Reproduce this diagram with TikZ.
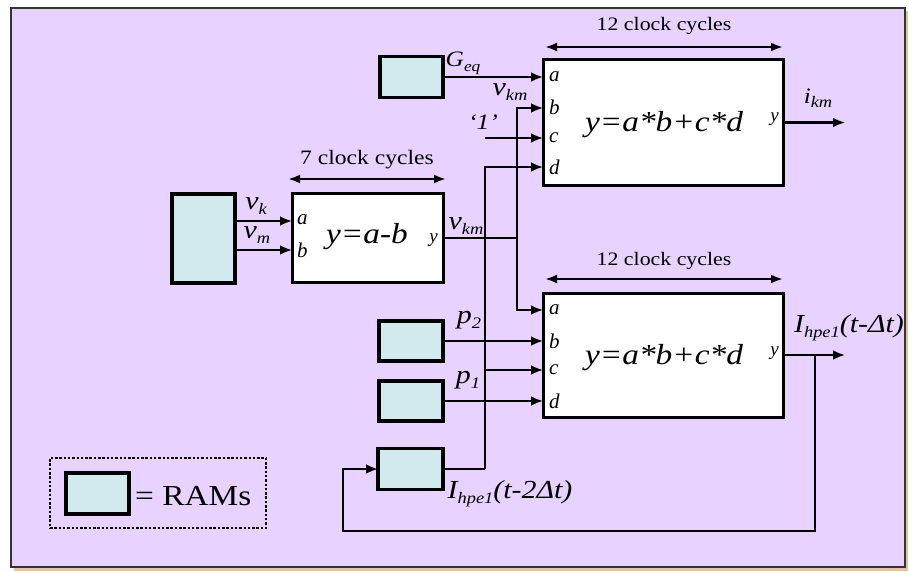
\documentclass[tikz,border=0pt]{standalone}
\usepackage{fontspec}
\setmainfont{Liberation Serif}
\usepackage{graphicx}
\usetikzlibrary{arrows.meta}
\definecolor{bgcol}{RGB}{232,210,255}
\definecolor{ramcol}{RGB}{210,234,238}
\definecolor{shadowcol}{RGB}{228,196,160}
\newcommand\hs[1]{\scalebox{1.15}[1]{#1}}
\newcommand\subx[1]{\raisebox{-0.2em}{\fontsize{16}{16}\selectfont #1}}
\newcommand\subs[1]{\raisebox{-0.22em}{\fontsize{15}{15}\selectfont #1}}
\begin{document}
\begin{tikzpicture}[x=1pt,y=-1pt,
  ram/.style={draw=black, line width=3.5pt, fill=ramcol, inner sep=0pt, outer sep=0pt},
  blk/.style={draw=black, line width=3pt, fill=white, inner sep=0pt, outer sep=0pt},
  wire/.style={line width=2.5pt},
  arr/.style={wire, -{Latex[length=12pt,width=10pt]}},
  dim/.style={line width=2.5pt, {Latex[length=12pt,width=9pt]}-{Latex[length=12pt,width=9pt]}},
  lbl/.style={font=\fontsize{26}{26}\selectfont\itshape, inner sep=0pt},
  slbl/.style={font=\fontsize{22}{22}\selectfont\itshape, inner sep=0pt},
  port/.style={font=\fontsize{21}{21}\selectfont\itshape, inner sep=0pt, anchor=west},
  yport/.style={font=\fontsize{19}{19}\selectfont\itshape, inner sep=0pt, anchor=east},
  formula/.style={font=\fontsize{29}{29}\selectfont\itshape, inner sep=0pt},
  clk/.style={font=\fontsize{19}{19}\selectfont, inner sep=0pt}
]
\useasboundingbox (0,0) rectangle (909,572);
\fill[white] (0,0) rectangle (909,572);
\fill[shadowcol] (14,11) rectangle (908,571);
\draw[line width=2.5pt, draw=black!80, fill=bgcol] (11,8) rectangle (905,567);

% RAM boxes
\node[ram, minimum width=63pt, minimum height=41pt] (ramG) at (411.5,77) {};
\node[ram, minimum width=63pt, minimum height=89pt] (ramV) at (203.5,238.5) {};
\node[ram, minimum width=64pt, minimum height=40pt] (ramP2) at (411,341) {};
\node[ram, minimum width=64pt, minimum height=40pt] (ramP1) at (411,401) {};
\node[ram, minimum width=65pt, minimum height=41pt] (ramI) at (410.5,469) {};

% blocks
\node[blk, minimum width=151pt, minimum height=89pt] (sub) at (367.5,238) {};
\node[blk, minimum width=240pt, minimum height=125pt] (mulA) at (663,122.5) {};
\node[blk, minimum width=240pt, minimum height=124pt] (mulB) at (663,355) {};

\node[formula] (fsub) at (367,237) {\hs{y=a-b}};
\node[formula] (fA) at (664,125) {\hs{y=a*b+c*d}};
\node[formula] (fB) at (664,358) {\hs{y=a*b+c*d}};

% ports
\node[port] (sa) at (297,220) {a};
\node[port] (sb) at (297,250) {b};
\node[yport] (sy) at (438,240) {y};
\node[port] (pAa) at (549,77) {a};
\node[port] (pAb) at (549,107) {b};
\node[port] (pAc) at (549,138) {c};
\node[port] (pAd) at (549,167) {d};
\node[yport] (pAy) at (779,119) {y};
\node[port] (pBa) at (549,310) {a};
\node[port] (pBb) at (549,341) {b};
\node[port] (pBc) at (549,370) {c};
\node[port] (pBd) at (549,401) {d};
\node[yport] (pBy) at (779,353) {y};

% connection points
\coordinate (Aa) at (543,77);
\coordinate (Ab) at (543,108);
\coordinate (Ac) at (543,138);
\coordinate (Ad) at (543,167);
\coordinate (Ba) at (543,310);
\coordinate (Bb) at (543,341);
\coordinate (Bc) at (543,370);
\coordinate (Bd) at (543,401);
\coordinate (Sa) at (292,221);
\coordinate (Sb) at (292,250);
\coordinate (vj) at (517,238);
\coordinate (one) at (485,138);
\coordinate (ij) at (485,469);
\coordinate (ic) at (485,370);
\coordinate (Aout) at (845,122.5);
\coordinate (Bout) at (845,355);
\coordinate (fb) at (815,355);
\coordinate (fb2) at (343,531);

% wires
\draw[arr] (ramG) -- (Aa);
\draw[arr] (ramV.east |- Sa) -- (Sa);
\draw[arr] (ramV.east |- Sb) -- (Sb);
\draw[wire] (sub.east) -- (vj);
\draw[arr] (vj) |- (Ab);
\draw[arr] (vj) |- (Ba);
\draw[arr] (one) -- (Ac);
\draw[wire] (ramI) -- (ij);
\draw[arr] (ij) |- (Ad);
\draw[arr] (ic) -- (Bc);
\draw[arr] (ramP2) -- (Bb);
\draw[arr] (ramP1) -- (Bd);
\draw[arr] (mulA) -- (Aout);
\draw[arr] (mulB) -- (Bout);
\draw[arr] (fb) |- (fb2) |- (ramI.west);

% labels
\node[slbl] (lG) at (463,63) {\hs{G\subs{eq}}};
\node[lbl] (lvkm1) at (510,92) {\hs{v\subx{km}}};
\node[slbl] (l1) at (483,122) {\hs{‘1’}};
\node[lbl] (lvk) at (256,206) {\hs{v\subx{k}}};
\node[lbl] (lvm) at (257,235) {\hs{v\subx{m}}};
\node[lbl] (lvkm2) at (466,226) {\hs{v\subx{km}}};
\node[lbl] (lp2) at (469,320) {\hs{p\subx{2}}};
\node[lbl] (lp1) at (468,380) {\hs{p\subx{1}}};
\node[slbl] (lik) at (818,98) {\hs{i\subx{km}}};
\node[lbl] (lI1) at (849,328) {\hs{I\subx{hpe1}(t-Δt)}};
\node[lbl] (lI2) at (510,494) {\hs{I\subx{hpe1}(t-2Δt)}};

% clock cycle dimensions
\coordinate (c1l) at (545,47);
\coordinate (c1r) at (783,47);
\coordinate (c2l) at (545,279);
\coordinate (c2r) at (783,279);
\coordinate (c3l) at (288,179);
\coordinate (c3r) at (446,179);
\draw[dim] (c1l) -- (c1r);
\draw[dim] (c2l) -- (c2r);
\draw[dim] (c3l) -- (c3r);
\node[clk] (t1) at (664,26) {\hs{12 clock cycles}};
\node[clk] (t2) at (664,261) {\hs{12 clock cycles}};
\node[clk, font=\fontsize{20.5}{20.5}\selectfont] (t3) at (367,160) {\hs{7 clock cycles}};

% legend
\node[draw=black, line width=1.8pt, dash pattern=on 2.5pt off 1.8pt, minimum width=216pt, minimum height=70pt, inner sep=0pt] (leg) at (158,493) {};
\node[ram, minimum width=63pt, minimum height=41pt] (ramL) at (97.5,493.5) {};
\node[font=\fontsize{29}{29}\selectfont, inner sep=0pt, anchor=west] (legt) at (135,496) {\hs{= RAMs}};
\end{tikzpicture}
\end{document}
